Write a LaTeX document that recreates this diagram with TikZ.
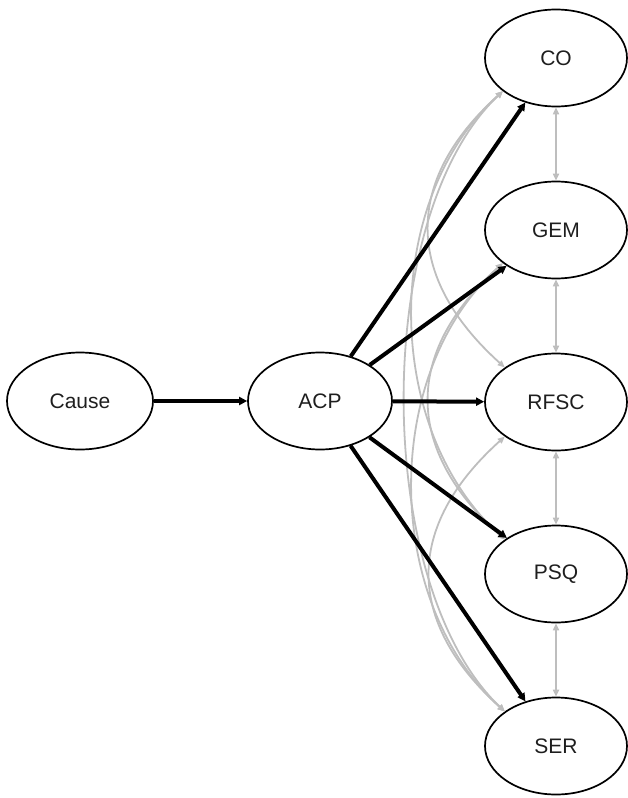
\documentclass[tikz,border=0pt]{standalone}
\usepackage{fontspec}
\setmainfont{Liberation Sans}
\usetikzlibrary{shapes.geometric,arrows.meta}
\definecolor{covgray}{RGB}{190,190,190}
\definecolor{txt}{RGB}{30,30,30}
\begin{document}
\begin{tikzpicture}[x=1pt,y=1pt,
  var/.style={ellipse,draw=black,line width=1.7pt,minimum width=142pt,minimum height=97pt,inner sep=0pt,
    font=\fontsize{21}{25}\selectfont,text=txt},
  path/.style={line width=4pt,draw=black,-{Triangle[length=8pt,width=8pt]}},
  cov/.style={line width=1.8pt,draw=covgray,{Triangle[length=7pt,width=6pt]}-{Triangle[length=7pt,width=6pt]}}]
\useasboundingbox (0,0) rectangle (628,-798);
\node[var,minimum width=146pt] (cause) at (80,-401) {Cause};
\node[var,minimum width=144pt] (acp) at (320,-401) {ACP};
\node[var] (co) at (556,-58) {CO};
\node[var] (gem) at (556,-230) {GEM};
\node[var] (rfsc) at (556,-402) {RFSC};
\node[var] (psq) at (556,-574) {PSQ};
\node[var] (ser) at (556,-746) {SER};
% covariances between adjacent indicators
\draw[cov] (co.south) -- (gem.north);
\draw[cov] (gem.south) -- (rfsc.north);
\draw[cov] (rfsc.south) -- (psq.north);
\draw[cov] (psq.south) -- (ser.north);
% curved covariances
\draw[cov] (co.212) .. controls +(-100,-90) and +(-100,90) .. (rfsc.146);
\draw[cov] (gem.212) .. controls +(-100,-90) and +(-100,90) .. (psq.146);
\draw[cov] (rfsc.214) .. controls +(-100,-90) and +(-100,90) .. (ser.146);
\draw[cov] (co.212) .. controls +(-122,-110) and +(-122,110) .. (psq.146);
\draw[cov] (gem.212) .. controls +(-122,-110) and +(-122,110) .. (ser.146);
\draw[cov] (co.212) .. controls +(-132,-125) and +(-132,125) .. (ser.146);
% regressions
\draw[path] (cause) -- (acp);
\draw[path] (acp) -- (co);
\draw[path] (acp) -- (gem);
\draw[path] (acp) -- (rfsc);
\draw[path] (acp) -- (psq);
\draw[path] (acp) -- (ser);
\end{tikzpicture}
\end{document}
